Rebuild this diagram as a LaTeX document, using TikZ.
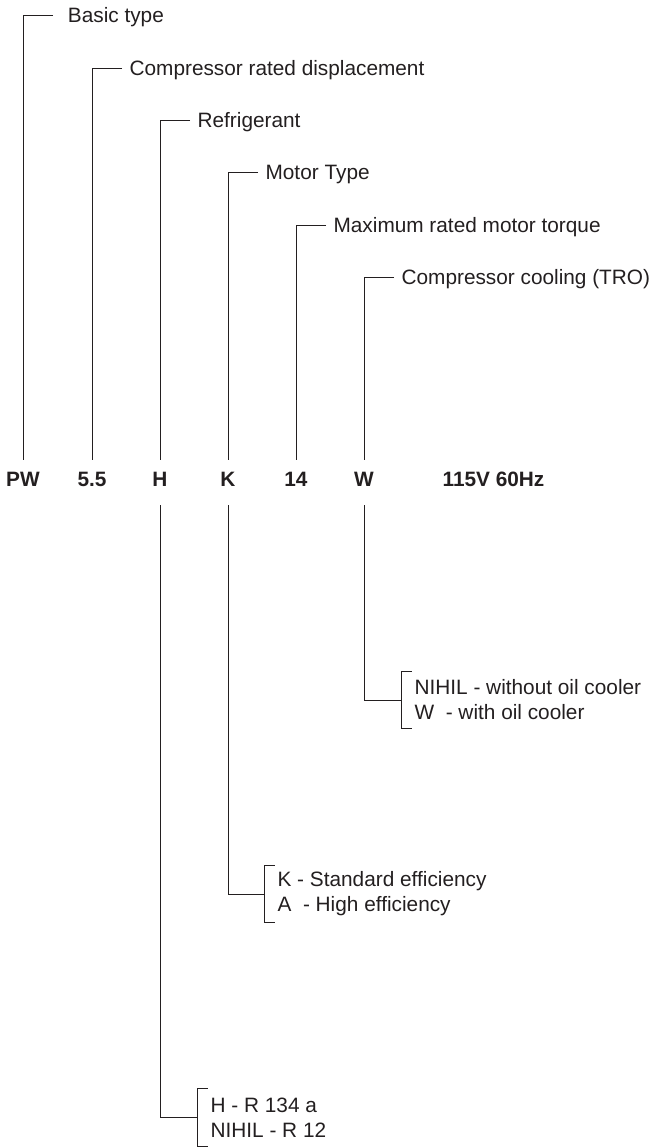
\documentclass[tikz,border=0pt]{standalone}
\usepackage{fontspec}
\setmainfont{Liberation Sans}
\usepackage{xcolor}
\usepackage{tikz}
\definecolor{ink}{HTML}{231F20}

\begin{document}
\begin{tikzpicture}[
        x=0.75pt, y=-0.75pt,
        font=\fontsize{15.6}{18.75}\selectfont,
        every node/.style={text=ink},
        code/.style={font=\fontsize{15.6}{18.75}\selectfont\bfseries, inner xsep=0pt, inner ysep=0pt, text height=19.8pt, text depth=13.95pt},
        desc/.style={anchor=west, inner xsep=5.5pt, inner ysep=0pt, text height=11.2pt, text depth=0pt},
        opts/.style={anchor=west, align=left, inner xsep=10pt, inner ysep=0pt, minimum height=42.5pt},
        line/.style={draw=ink, line width=0.7pt},
        brace/.style={draw=ink, line width=0.7pt}
    ]
        \useasboundingbox (0,0) rectangle (655,1147);

        \node[code] (pw) at (23,482.5) {PW};
        \node[code] (disp) at (92,482.5) {5.5};
        \node[code] (refr) at (160,482.5) {H};
        \node[code] (motor) at (228,482.5) {K};
        \node[code] (torque) at (296,482.5) {14};
        \node[code] (cool) at (364,482.5) {W};
        \node[code] (volt) at (493.5,482.5) {115V 60Hz};

        \node[desc, inner xsep=11pt] (dbasic) at (53,15) {Basic type};
        \node[desc] (ddisp) at (122,68) {Compressor rated displacement};
        \node[desc] (drefr) at (190,120) {Refrigerant};
        \node[desc] (dmotor) at (258,172) {Motor Type};
        \node[desc] (dtorque) at (326,225) {Maximum rated motor torque};
        \node[desc] (dcool) at (394,277) {Compressor cooling (TRO)};

        \node[opts] (ocool) at (401,700) {NIHIL - without oil cooler\\W~ - with oil cooler};
        \node[opts] (omotor) at (264,894) {K - Standard efficiency\\A~ - High efficiency};
        \node[opts] (orefr) at (197,1117.5) {H - R 134 a\\NIHIL - R 12};

        \draw[line] (dbasic.west) -| (pw.north);
        \draw[line] (ddisp.west) -| (disp.north);
        \draw[line] (drefr.west) -| (refr.north);
        \draw[line] (dmotor.west) -| (motor.north);
        \draw[line] (dtorque.west) -| (torque.north);
        \draw[line] (dcool.west) -| (cool.north);

        \draw[line] (cool.south) |- (ocool.west);
        \draw[line] (motor.south) |- (omotor.west);
        \draw[line] (refr.south) |- (orefr.west);

        \draw[brace] ([xshift=8pt]ocool.north west) -- (ocool.north west) -- (ocool.south west) -- ([xshift=8pt]ocool.south west);
        \draw[brace] ([xshift=8pt]omotor.north west) -- (omotor.north west) -- (omotor.south west) -- ([xshift=8pt]omotor.south west);
        \draw[brace] ([xshift=8pt]orefr.north west) -- (orefr.north west) -- (orefr.south west) -- ([xshift=8pt]orefr.south west);
    \end{tikzpicture}
\end{document}
